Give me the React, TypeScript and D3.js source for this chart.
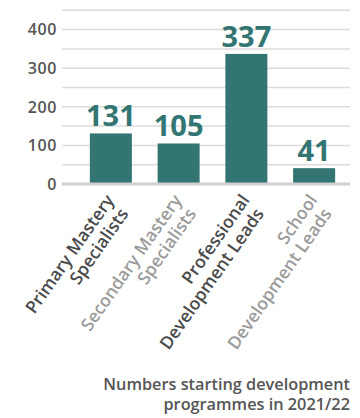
import React from "react";
import * as d3 from "d3";

const categories: string[][] = [
  ["Primary Mastery", "Specialists"],
  ["Secondary Mastery", "Specialists"],
  ["Professional", "Development Leads"],
  ["School", "Development Leads"],
];
const values: number[] = [131, 105, 337, 41];
const labelColors: string[] = ["#4a4a4a", "#9b9b9b", "#4a4a4a", "#9b9b9b"];
const yTicks: number[] = [0, 100, 200, 300, 400];
const gridValues: number[] = [50, 100, 150, 200, 250, 300, 350, 400, 450];
const titleLines: string[] = ["Numbers starting development", "programmes in 2021/22"];

const W = 360;
const H = 418;
const FONT = "'Open Sans', sans-serif";
const BAR = "#337572";

export default function App() {
  const x = d3
    .scaleBand<number>()
    .domain(values.map((_, i) => i))
    .range([77, 348])
    .paddingInner(0.38)
    .paddingOuter(0.19);
  const y = d3.scaleLinear().domain([0, 450]).range([184, 10.3]);

  return (
    <svg
      width={W}
      height={H}
      style={{ position: "absolute", left: 0, top: 0 }}
      fontFamily={FONT}
    >
      <rect width={W} height={H} fill="#fff" />
      {gridValues.map((g) => (
        <line
          key={g}
          x1={62}
          x2={350}
          y1={y(g)}
          y2={y(g)}
          stroke="#dcdcdc"
          strokeWidth={1.5}
        />
      ))}
      {yTicks.map((t) => (
        <text
          key={t}
          x={57}
          y={y(t)}
          dy="0.36em"
          textAnchor="end"
          fontSize={16}
          fontWeight={600}
          letterSpacing={0.6}
          fill="#555"
        >
          {t}
        </text>
      ))}
      {values.map((v, i) => (
        <rect
          key={i}
          x={x(i)!}
          y={y(v)}
          width={x.bandwidth()}
          height={y(0) - y(v)}
          fill={BAR}
        />
      ))}
      <line x1={62} x2={350} y1={y(0)} y2={y(0)} stroke="#d0d0d0" strokeWidth={3} />
      {values.map((v, i) => (
        <text
          key={i}
          x={x(i)! + x.bandwidth() / 2}
          y={y(v) - 7}
          textAnchor="middle"
          fontSize={29}
          fontWeight={700}
          fill={BAR}
        >
          {v}
        </text>
      ))}
      {categories.map((lines, i) => {
        const cx = x(i)! + x.bandwidth() / 2;
        return (
          <text
            key={i}
            transform={`translate(${cx + 4},200) rotate(-55)`}
            textAnchor="end"
            fontSize={17.5}
            fontWeight={600}
            fill={labelColors[i]}
          >
            {lines.map((l, j) => (
              <tspan key={j} x={j === 0 ? 0 : -3} dy={j === 0 ? 0 : 19.5}>
                {l}
              </tspan>
            ))}
          </text>
        );
      })}
      {titleLines.map((t, i) => (
        <text
          key={i}
          x={350}
          y={390 + i * 20}
          textAnchor="end"
          fontSize={16.3}
          fontWeight={600}
          fill="#555"
        >
          {t}
        </text>
      ))}
    </svg>
  );
}
